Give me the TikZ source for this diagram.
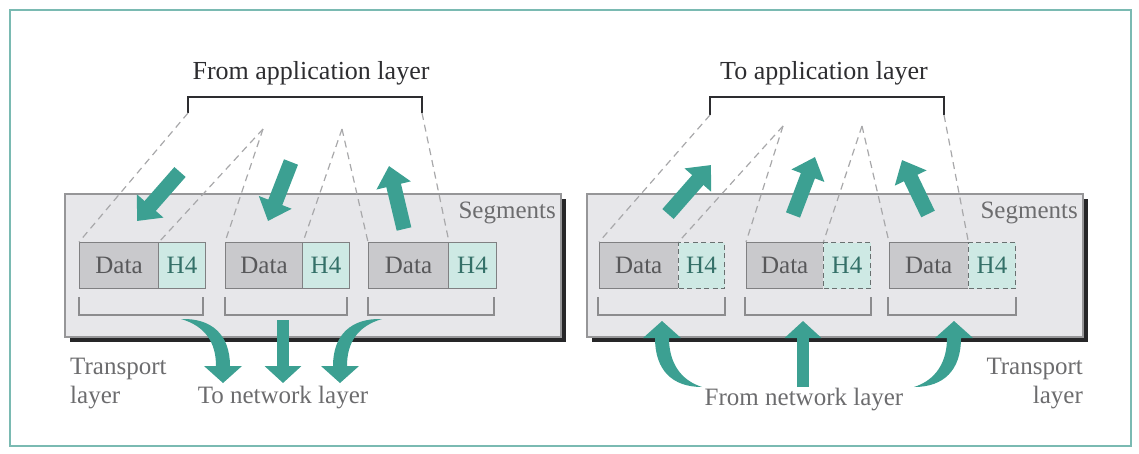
\documentclass[tikz,border=0pt]{standalone}
\usepackage{fontspec}
\setmainfont{Liberation Serif}
\usetikzlibrary{arrows.meta}

\definecolor{framec}{RGB}{122,186,178}
\definecolor{panelfill}{RGB}{231,231,234}
\definecolor{panelline}{RGB}{150,150,152}
\definecolor{shadowc}{RGB}{38,38,40}
\definecolor{datafill}{RGB}{201,201,204}
\definecolor{dataline}{RGB}{128,128,130}
\definecolor{hfill}{RGB}{206,233,228}
\definecolor{hdashc}{RGB}{105,112,112}
\definecolor{datatext}{RGB}{88,88,90}
\definecolor{htext}{RGB}{52,112,104}
\definecolor{graytext}{RGB}{108,108,110}
\definecolor{titlec}{RGB}{45,45,48}
\definecolor{splitc}{RGB}{168,168,170}
\definecolor{brc}{RGB}{140,140,142}
\definecolor{tealc}{RGB}{60,160,146}

\begin{document}
\begin{tikzpicture}[x=1pt,y=-1pt,
  every node/.style={font=\fontsize{25}{28}\selectfont, inner sep=0pt},
  panel/.style={draw=panelline, fill=panelfill, line width=1.2pt},
  shadowbox/.style={fill=shadowc},
  databox/.style={draw=dataline, fill=datafill, line width=1pt, minimum height=46pt, text=datatext},
  hbox/.style={draw=dataline, fill=hfill, line width=1pt, minimum height=46pt, text=htext},
  hdash/.style={draw=hdashc, fill=hfill, line width=1pt, dash pattern=on 5pt off 3.5pt, minimum height=46pt, text=htext},
  datafillonly/.style={fill=datafill, minimum height=46pt, text=datatext},
  split/.style={draw=splitc, line width=1.2pt, dash pattern=on 7pt off 5pt},
  segbracket/.style={draw=brc, line width=1.1pt},
  appbracket/.style={draw=titlec, line width=1.8pt},
  title/.style={font=\fontsize{26}{30}\selectfont, text=titlec},
  label/.style={text=graytext},
  flow/.style={draw=tealc, line width=15pt, -{Triangle[width=34pt,length=20pt]}},
  flowlow/.style={draw=tealc, line width=12pt, -{Triangle[width=36pt,length=17pt]}},
  swoosh/.style={fill=tealc}
]
\useasboundingbox (0,0) rectangle (1139,453);

% outer frame
\draw[framec, line width=2.2pt] (10,10) rectangle (1131,446);

% ---------------- sending side ----------------
\fill[shadowbox] (70,199) rectangle (566,342);
\draw[panel] (65,194) rectangle (561,337);

\foreach \n/\a/\b/\c in {1/79/158/205, 2/225/302/349, 3/368/448/496}{
  \node[databox, anchor=north west, minimum width={(\b-\a)*1pt}] (ld\n) at (\a,242) {Data};
  \node[hbox, anchor=north west, minimum width={(\c-\b)*1pt}] (lh\n) at (\b,242) {H4};
  \draw[segbracket] (\a,297) -- (\a,315) -- (\c-2,315) -- (\c-2,297);
}

% message split into three pieces
\coordinate (la0) at (188,113);
\coordinate (la1) at (263,129);
\coordinate (la2) at (342,129);
\coordinate (la3) at (422,113);
\draw[appbracket] (la0) -- (188,97) -- (422,97) -- (la3);
\node[title, anchor=base] (ltitle) at (311,79) {From application layer};

\draw[split] (la0) -- (ld1.north west);
\draw[split] (la1) -- (ld1.north east);
\draw[split] (la1) -- (ld2.north west);
\draw[split] (la2) -- (ld2.north east);
\draw[split] (la2) -- (ld3.north west);
\draw[split] (la3) -- (ld3.north east);

% arrows into the segments
\coordinate (lf1s) at (180,172); \coordinate (lf1e) at (137,221);
\coordinate (lf2s) at (291,162); \coordinate (lf2e) at (268,221);
\coordinate (lf3s) at (404,229); \coordinate (lf3e) at (389,166);
\draw[flow] (lf1s) -- (lf1e);
\draw[flow] (lf2s) -- (lf2e);
\draw[flow] (lf3s) -- (lf3e);

% arrows down to the network layer
\fill[swoosh] (181,319) .. controls (212,318) and (230,335) .. (230,366)
  -- (242,366) -- (223,383) -- (204,366) -- (216,366)
  .. controls (216,342) and (205,326) .. (181,319) -- cycle;
\coordinate (ln2s) at (283,320); \coordinate (ln2e) at (283,383);
\draw[flowlow] (ln2s) -- (ln2e);
\fill[swoosh] (382,319) .. controls (351,318) and (333,335) .. (333,366)
  -- (321,366) -- (340,383) -- (359,366) -- (347,366)
  .. controls (347,342) and (358,326) .. (382,319) -- cycle;

\node[label, anchor=base east] (lseg) at (556,218) {Segments};
\node[label, anchor=base west] (ltr1) at (70,374) {Transport};
\node[label, anchor=base west] (ltr2) at (70,403) {layer};
\node[label, anchor=base] (lnet) at (283,403) {To network layer};

% ---------------- receiving side ----------------
\fill[shadowbox] (592,199) rectangle (1088,342);
\draw[panel] (587,194) rectangle (1083,337);

\foreach \n/\a/\b/\c in {1/599/678/724, 2/746/823/870, 3/889/968/1015}{
  \node[datafillonly, anchor=north west, minimum width={(\b-\a)*1pt}] (rd\n) at (\a,242) {Data};
  \draw[draw=dataline, line width=1pt] (rd\n.north east) -- (rd\n.north west) -- (rd\n.south west) -- (rd\n.south east);
  \node[hdash, anchor=north west, minimum width={(\c-\b)*1pt}] (rh\n) at (\b,242) {H4};
  \draw[segbracket] (\a-1,297) -- (\a-1,315) -- (\c+1,315) -- (\c+1,297);
}

\coordinate (ra0) at (710,115);
\coordinate (ra1) at (783,126);
\coordinate (ra2) at (862,126);
\coordinate (ra3) at (944,115);
\draw[appbracket] (ra0) -- (710,97) -- (944,97) -- (ra3);
\node[title, anchor=base] (rtitle) at (824,79) {To application layer};

\draw[split] (ra0) -- (rd1.north west);
\draw[split] (ra1) -- (rd1.north east);
\draw[split] (ra1) -- (rd2.north west);
\draw[split] (ra2) -- (rd2.north east);
\draw[split] (ra2) -- (rd3.north west);
\draw[split] (ra3) -- (rd3.north east);

% arrows out of the segments
\coordinate (rf1s) at (668,214); \coordinate (rf1e) at (711,165);
\coordinate (rf2s) at (793,215); \coordinate (rf2e) at (815,157);
\coordinate (rf3s) at (928,214); \coordinate (rf3e) at (902,160);
\draw[flow] (rf1s) -- (rf1e);
\draw[flow] (rf2s) -- (rf2e);
\draw[flow] (rf3s) -- (rf3e);

% arrows up from the network layer
\fill[swoosh] (702,387) .. controls (672,387) and (655,370) .. (655,338)
  -- (643,338) -- (662,321) -- (681,338) -- (669,338)
  .. controls (669,362) and (680,380) .. (702,387) -- cycle;
\coordinate (rn2s) at (803,387); \coordinate (rn2e) at (803,321);
\draw[flowlow] (rn2s) -- (rn2e);
\fill[swoosh] (914,387) .. controls (944,387) and (961,370) .. (961,338)
  -- (973,338) -- (954,321) -- (935,338) -- (947,338)
  .. controls (947,362) and (936,380) .. (914,387) -- cycle;

\node[label, anchor=base east] (rseg) at (1078,218) {Segments};
\node[label, anchor=base east] (rtr1) at (1083,374) {Transport};
\node[label, anchor=base east] (rtr2) at (1083,403) {layer};
\node[label, anchor=base] (rnet) at (804,405) {From network layer};
\end{tikzpicture}
\end{document}
